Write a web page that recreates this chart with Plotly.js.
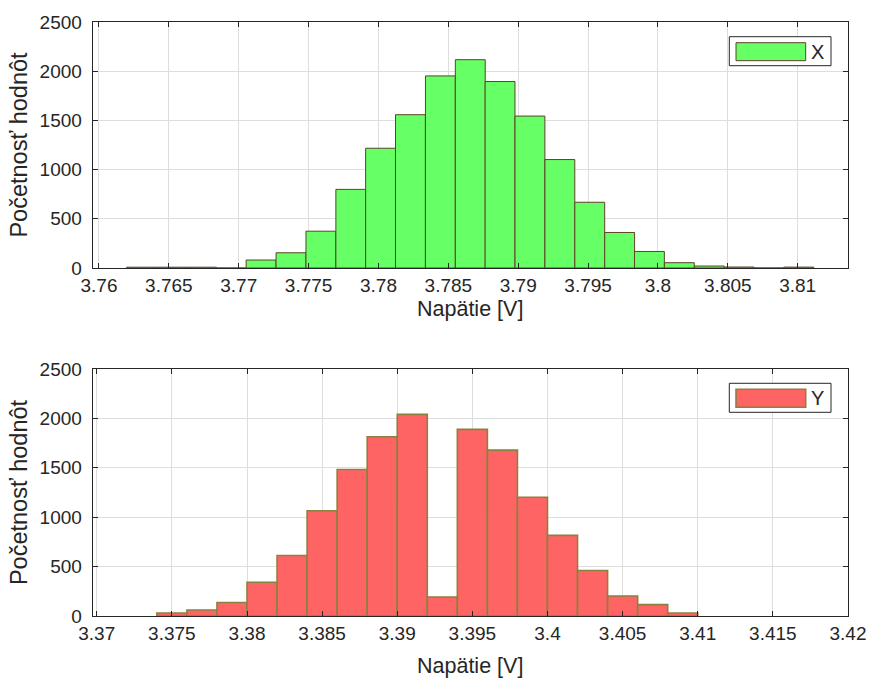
<!DOCTYPE html>
<html>
<head>
<meta charset="utf-8">
<script src="https://cdn.plot.ly/plotly-3.0.1.min.js"></script>
<style>html,body{margin:0;padding:0;background:#fff;}#chart{width:873px;height:680px;}</style>
</head>
<body>
<div id="chart"></div>
<script>
// Top histogram (X): bin centres [V] and counts
const binCentersX = [3.76305, 3.76519, 3.76733, 3.76946, 3.77160, 3.77374, 3.77588, 3.77802,
  3.78015, 3.78229, 3.78443, 3.78657, 3.78870, 3.79084, 3.79298, 3.79512, 3.79726, 3.79939,
  3.80153, 3.80367, 3.80581, 3.80795, 3.81008];
const countsX = [8, 8, 8, 0, 81, 155, 374, 799, 1217, 1558, 1952, 2117, 1895, 1544, 1102, 668,
  361, 168, 54, 20, 10, 0, 9];
const binWidthX = 0.002138;

// Bottom histogram (Y): bin centres [V] and counts
const binCentersY = [3.375, 3.377, 3.379, 3.381, 3.383, 3.385, 3.387, 3.389, 3.391, 3.393,
  3.395, 3.397, 3.399, 3.401, 3.403, 3.405, 3.407, 3.409];
const countsY = [30, 61, 137, 342, 613, 1066, 1483, 1814, 2041, 193, 1889, 1679, 1202, 816,
  460, 203, 115, 30];
const binWidthY = 0.002;

const seriesNames = ['X', 'Y'];
const xTitle = 'Napätie [V]';
const yTitle = 'Početnosť hodnôt';

const W = 873, H = 680;
const px = v => v / W;
const py = v => 1 - v / H;

const font = {family: 'Liberation Sans, Arial, sans-serif', color: '#262626'};
const greenFill = '#66ff66', greenEdge = '#5e4326';
const redFill = '#ff6464', redEdge = '#8c8040';

const traces = [
  {type: 'bar', x: binCentersX, y: countsX, width: binWidthX, name: seriesNames[0],
   xaxis: 'x', yaxis: 'y', showlegend: false,
   marker: {color: greenFill, line: {color: greenEdge, width: 1}}},
  {type: 'bar', x: binCentersY, y: countsY, width: binWidthY, name: seriesNames[1],
   xaxis: 'x2', yaxis: 'y2', showlegend: false,
   marker: {color: redFill, line: {color: redEdge, width: 1.6}}}
];

function xAxis(range, anchor) {
  return {
    domain: [px(92.7), px(848)], anchor: anchor, range: range,
    tick0: 3.37, dtick: 0.005,
    ticks: 'inside', ticklen: 5, tickcolor: '#262626', tickwidth: 1,
    showline: true, linecolor: '#262626', linewidth: 1, mirror: 'ticks',
    showgrid: true, gridcolor: '#dedede', gridwidth: 1, zeroline: false,
    tickfont: Object.assign({size: 19}, font),
    fixedrange: true
  };
}
function yAxis(anchor, domain) {
  return {
    domain: domain, anchor: anchor, range: [0, 2500], dtick: 500,
    ticks: 'inside', ticklen: 5, tickcolor: '#262626', tickwidth: 1,
    showline: true, linecolor: '#262626', linewidth: 1, mirror: 'ticks',
    showgrid: true, gridcolor: '#dedede', gridwidth: 1, zeroline: false,
    tickfont: Object.assign({size: 19}, font),
    ticklabelstandoff: 6,
    title: {text: yTitle, font: Object.assign({size: 23.5}, font), standoff: 5},
    fixedrange: true
  };
}

function xTitleAnn(yPix) {
  return {xref: 'paper', yref: 'paper', x: px(470.4), y: py(yPix), xanchor: 'center', yanchor: 'middle',
    text: xTitle, showarrow: false, font: Object.assign({size: 21.5}, font)};
}

function legendBox(top, label, fill, edge, ew) {
  return {
    shapes: [
      {type: 'rect', xref: 'paper', yref: 'paper', x0: px(729.3), x1: px(831), y0: py(top + 29), y1: py(top),
       line: {color: '#262626', width: 1}, fillcolor: '#ffffff'},
      {type: 'rect', xref: 'paper', yref: 'paper', x0: px(736), x1: px(805.7), y0: py(top + 24), y1: py(top + 6),
       line: {color: edge, width: ew}, fillcolor: fill}
    ],
    annotation: {xref: 'paper', yref: 'paper', x: px(809), y: py(top + 15), xanchor: 'left', yanchor: 'middle',
      text: label, showarrow: false, font: Object.assign({size: 20}, font)}
  };
}
const lg1 = legendBox(36.7, seriesNames[0], greenFill, greenEdge, 1);
const lg2 = legendBox(383.3, seriesNames[1], redFill, redEdge, 1.6);

const layout = {
  width: W, height: H,
  margin: {l: 0, r: 0, t: 0, b: 0},
  paper_bgcolor: '#ffffff', plot_bgcolor: '#ffffff',
  showlegend: false, bargap: 0,
  xaxis: xAxis([3.75955, 3.8136], 'y'),
  yaxis: yAxis('x', [py(268), py(22)]),
  xaxis2: xAxis([3.36973, 3.42], 'y2'),
  yaxis2: yAxis('x2', [py(616), py(369)]),
  shapes: lg1.shapes.concat(lg2.shapes),
  annotations: [lg1.annotation, lg2.annotation, xTitleAnn(309), xTitleAnn(666)]
};

Plotly.newPlot('chart', traces, layout, {displayModeBar: false, staticPlot: true});
</script>
</body>
</html>
